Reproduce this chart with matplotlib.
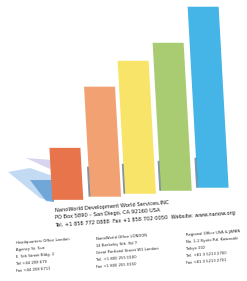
import matplotlib
matplotlib.use("Agg")
import matplotlib.pyplot as plt
from matplotlib.transforms import Affine2D
from matplotlib.patches import Polygon

# bar data (left edge at base, height in px units of the logo)
lefts = [52, 90, 125, 161, 198]
values = [52, 110, 133, 148, 181]
colors = ["#E8744C", "#F2A272", "#F9E46A", "#A9CC72", "#45B4E6"]

header = ["NanoWorld Development World Services,INC",
          "PO Box 5890 \u2013 San Diego, CA 92160 USA",
          "Tel. +1 858 772 0888  Fax +1 858 702 0050  Website: www.nanow.org"]
col1 = ["Headquarters Office London", "Agency St. 5ue", "E. 5th Street Bldg. 2",
        "Tel +44 208 670", "Fax +44 208 6711"]
col2 = ["NanoWorld Office LONDON", "14 Berkeley Sth. Rd 7", "Great Portland Street W1 London",
        "Tel. +1 800 255 0100", "Fax +1 800 255 0150"]
col3 = ["Regional Office USA & JAPAN", "No. 1-2 Kyoto Rd. Kawasaki", "Tokyo 102",
        "Tel. +81 3 5213 2700", "Fax +81 3 5213 2701"]

fig = plt.figure(figsize=(2.47, 2.81), dpi=100)
ax = fig.add_axes([0, 0, 1, 1])
ax.set_xlim(0, 247)
ax.set_ylim(281, 0)
ax.axis("off")

# bases slope upward to the right
bases = [200 - 0.083 * (l + 15 - 65) for l in lefts]
shear = Affine2D.from_values(1, 0, 0.055, 1, -0.055 * 195, 0) + ax.transData

# light swoosh behind the first bar
ax.add_patch(Polygon([(26, 158), (52, 160), (52, 170)], closed=True,
                     facecolor="#c9c3e6", edgecolor="none", alpha=0.7))
ax.add_patch(Polygon([(8, 172), (30, 168), (53, 176), (54, 202), (40, 198)],
                     closed=True, facecolor="#a9cdef", edgecolor="none", alpha=0.7))
ax.add_patch(Polygon([(30, 180), (53, 180), (54, 202), (46, 201)],
                     closed=True, facecolor="#2f7cc4", edgecolor="none", alpha=0.55))

bars = ax.bar(lefts, [-v for v in values], bottom=bases, width=31, align="edge",
              color=colors, edgecolor="none")
for b in bars:
    b.set_transform(shear)
# thin dark shade on the left of bars
ax.bar([l - 1.5 for l in lefts[1:]], [-30] * 4, bottom=bases[1:], width=1.8, align="edge",
       color="#35506e", alpha=0.6, edgecolor="none", transform=shear)

for i, t in enumerate(header):
    ax.text(55, 212 + i * 7.5, t, fontsize=3.7, color="#111111", rotation=4,
            rotation_mode="anchor", ha="left", va="baseline")

for x0, y0, col in [(16, 244, col1), (96, 240, col2), (186, 236, col3)]:
    for i, t in enumerate(col):
        ax.text(x0, y0 + i * 7, t, fontsize=2.7, color="#222222", rotation=4,
                rotation_mode="anchor", ha="left", va="baseline")

fig.savefig("out.png", dpi=100)
